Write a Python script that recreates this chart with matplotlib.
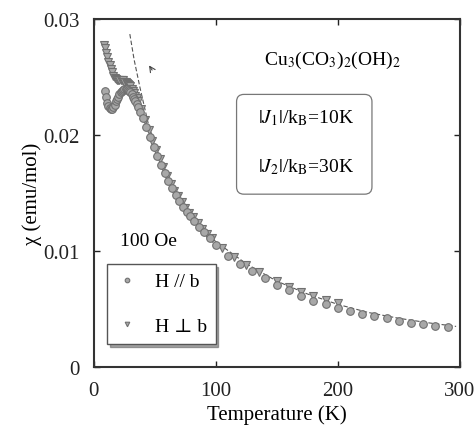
import numpy as np
import matplotlib
matplotlib.use("Agg")
import matplotlib.pyplot as plt
from matplotlib.patches import FancyBboxPatch

plt.rcParams['font.family'] = ['Liberation Serif', 'DejaVu Serif']
plt.rcParams['mathtext.fontset'] = 'stix'

# H // b  (circles)
T_par = [9, 10, 11, 12, 13, 14, 15, 16, 17, 18, 19, 20, 21, 22, 23, 24, 25, 26, 27, 28,
         29, 30, 31, 32, 33, 34, 35, 36, 38, 40, 43, 46, 49, 52, 55, 58, 61, 64, 67, 70,
         73, 76, 79, 82, 86, 90, 95, 100, 110, 120, 130, 140, 150, 160, 170, 180, 190,
         200, 210, 220, 230, 240, 250, 260, 270, 280, 290]
chi_par = [0.0238, 0.0233, 0.0228, 0.0225, 0.0223, 0.0222, 0.0222, 0.0224, 0.0226, 0.0229,
           0.0231, 0.0233, 0.0235, 0.0237, 0.0238, 0.0239, 0.0240, 0.0240, 0.0240, 0.0239,
           0.0238, 0.0237, 0.0235, 0.0233, 0.0231, 0.0229, 0.0227, 0.0224, 0.0220, 0.0215,
           0.0207, 0.0198, 0.0190, 0.0182, 0.0174, 0.0167, 0.0160, 0.0154, 0.0148, 0.0143,
           0.0138, 0.0134, 0.0130, 0.0126, 0.0121, 0.0116, 0.0111, 0.0105, 0.0096, 0.0089,
           0.0083, 0.0077, 0.0071, 0.0066, 0.0061, 0.0057, 0.0054, 0.0051, 0.0048, 0.0046,
           0.0044, 0.0042, 0.0040, 0.0038, 0.0037, 0.0035, 0.00345]

# H perp b  (triangles)
T_perp = [8, 9, 10, 11, 12, 13, 14, 15, 16, 17, 18, 19, 20, 21, 22, 23, 24, 25, 26, 27,
          28, 29, 30, 31, 32, 33, 34, 35, 36, 39, 42, 45, 48, 51, 54, 57, 60, 63, 66, 69,
          72, 75, 78, 81, 85, 89, 93, 97, 105, 115, 125, 135, 150, 160, 170, 180, 190, 200]
chi_perp = [0.0278, 0.0275, 0.0271, 0.0267, 0.0263, 0.0260, 0.0257, 0.0254, 0.0251, 0.0249,
            0.0248, 0.0247, 0.0247, 0.0247, 0.0247, 0.0247, 0.0247, 0.0246, 0.0246, 0.0245,
            0.0244, 0.0243, 0.0242, 0.0240, 0.0238, 0.0236, 0.0234, 0.0232, 0.0229, 0.0222,
            0.0213, 0.0204, 0.0195, 0.0187, 0.0179, 0.0172, 0.0165, 0.0158, 0.0152, 0.0147,
            0.0142, 0.0137, 0.0133, 0.0129, 0.0124, 0.0119, 0.0115, 0.0111, 0.0103, 0.0095,
            0.0088, 0.0082, 0.0074, 0.0069, 0.0065, 0.0061, 0.0058, 0.0055]

# calculated curve
T_fit = [29.5, 33, 38, 45, 55, 70, 85, 100, 125, 150, 175, 200, 225, 250, 275, 297]
chi_fit = [0.0287, 0.0265, 0.0240, 0.0208, 0.0177, 0.0145, 0.0124, 0.0108, 0.0089,
           0.0074, 0.0063, 0.0054, 0.0047, 0.0042, 0.0038, 0.0035]

fig = plt.figure(figsize=(4.74, 4.35), dpi=100)
ax = fig.add_axes([0.198, 0.154, 0.772, 0.80])

ax.plot(T_fit, chi_fit, ls=(0, (4, 2)), lw=0.8, color='#555555', zorder=1)
ax.plot(T_par, chi_par, 'o', ms=5.5, mfc='#a8a8a8', mec='#707070', mew=0.8,
        label='H // b', zorder=3)
ax.plot(T_perp, chi_perp, 'v', ms=5.5, mfc='#a8a8a8', mec='#707070', mew=0.8,
        label='H \u22a5 b', zorder=2)

ax.set_xlim(0, 300)
ax.set_ylim(0, 0.03)
ax.set_xticks([0, 100, 200, 300])
ax.set_yticks([0, 0.01, 0.02, 0.03])
ax.set_yticklabels(['0', '0.01', '0.02', '0.03'])
ax.tick_params(direction='in', length=4, width=1, labelsize=15, top=True, right=True,
               pad=10, colors='#222222')
for s in ax.spines.values():
    s.set_linewidth(1.5)
    s.set_color('#333333')

ax.set_xlabel('Temperature (K)', fontsize=15, labelpad=3)
ax.set_ylabel('\u03c7 (emu/mol)', fontsize=15, labelpad=1)

ax.text(196, 0.0265, r'Cu$_3$(CO$_3$)$_2$(OH)$_2$', fontsize=14, ha='center', va='center')
box = FancyBboxPatch((117, 0.0149), 111, 0.0086, boxstyle='round,pad=0,rounding_size=6',
                     transform=ax.transData, fc='white', ec='#777777', lw=0.9,
                     mutation_aspect=0.03 / 348 * 366 / 300)
ax.add_patch(box)
ax.text(174, 0.0215, r'$|J_1|$/k$_\mathrm{B}$=10K', fontsize=14, ha='center', va='center')
ax.text(174, 0.0173, r'$|J_2|$/k$_\mathrm{B}$=30K', fontsize=14, ha='center', va='center')

ax.text(45, 0.0109, '100 Oe', fontsize=14, ha='center', va='center')
ax.annotate('', xy=(44, 0.0262), xytext=(49, 0.0254),
            arrowprops=dict(arrowstyle='->', lw=0.8, color='#444444'))

leg = ax.legend(loc='lower left', bbox_to_anchor=(0.036, 0.066), borderaxespad=0,
                fontsize=14, labelspacing=1.4, markerscale=0.6, handlelength=1.2,
                handletextpad=0.8, borderpad=0.45, fancybox=False, shadow=True,
                edgecolor='#555555', framealpha=1)
leg.get_frame().set_linewidth(1.0)

fig.savefig('out.png', dpi=100)
